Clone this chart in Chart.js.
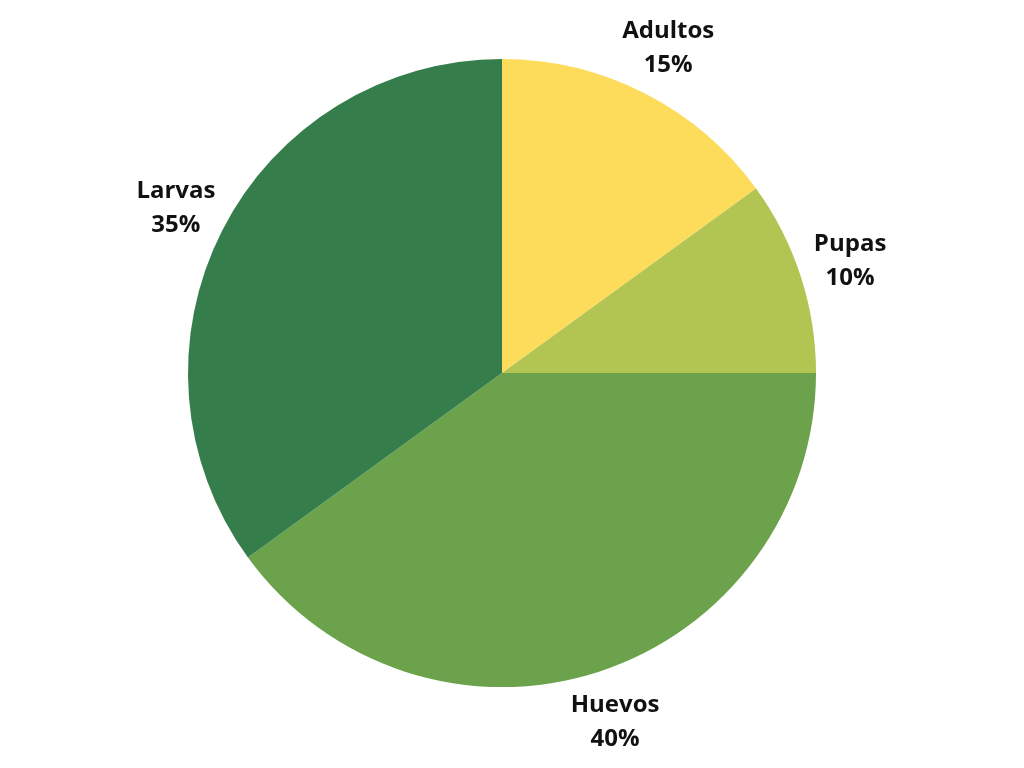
<!DOCTYPE html>
<html>
<head>
<meta charset="utf-8">
<script src="https://cdn.jsdelivr.net/npm/chart.js@4/dist/chart.umd.min.js"></script>
<style>
  html, body { margin: 0; padding: 0; background: #fff; }
  #wrap { width: 1024px; height: 768px; }
</style>
</head>
<body>
<div id="wrap"><canvas id="pie"></canvas></div>
<script>
const stages = ["Adultos", "Pupas", "Huevos", "Larvas"];
const shares = [15, 10, 40, 35];
const sliceColors = ["#FDDC5C", "#B2C452", "#6BA24B", "#357E4B"];

// draws the two-line label outside each slice
const outsideLabels = {
  id: "outsideLabels",
  afterDatasetsDraw(chart) {
    const ctx = chart.ctx;
    const meta = chart.getDatasetMeta(0);
    ctx.save();
    ctx.fillStyle = "#111";
    ctx.font = "bold 24px 'Open Sans'";
    ctx.textAlign = "center";
    ctx.textBaseline = "middle";
    meta.data.forEach((arc, i) => {
      const mid = (arc.startAngle + arc.endAngle) / 2;
      const r = arc.outerRadius + 52;
      const x = arc.x + Math.cos(mid) * r;
      const y = arc.y + Math.sin(mid) * r + 1;
      ctx.fillText(stages[i], x, y - 17);
      ctx.fillText(shares[i] + "%", x, y + 17);
    });
    ctx.restore();
  }
};

new Chart("pie", {
  type: "pie",
  data: {
    labels: stages,
    datasets: [
      {
        data: shares,
        backgroundColor: sliceColors,
        borderWidth: 0,
      },
    ],
  },
  options: {
    responsive: true,
    maintainAspectRatio: false,
    animation: false,
    layout: {
      padding: { top: 59, bottom: 81, left: 0, right: 20 },
    },
    plugins: {
      legend: { display: false },
      tooltip: { enabled: false },
    },
  },
  plugins: [outsideLabels],
});
</script>
</body>
</html>
